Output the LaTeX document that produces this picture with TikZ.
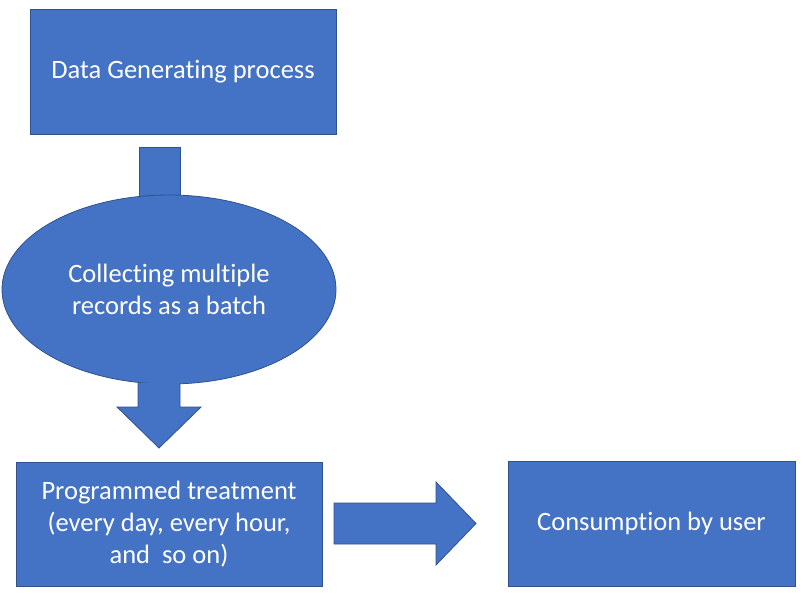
\documentclass[tikz,border=0pt]{standalone}
\usepackage{fontspec}
\setmainfont{Carlito}[Ligatures={NoCommon}]
\usetikzlibrary{shapes.geometric}
\definecolor{boxfill}{HTML}{4472C4}
\definecolor{boxline}{HTML}{2F528F}
\tikzset{
  blk/.style={fill=boxfill, draw=boxline, line width=0.8pt},
  boxnode/.style={blk, rectangle, inner sep=0pt, text=white, align=center,
    font=\fontsize{26.5}{32}\selectfont},
  ellnode/.style={blk, ellipse, inner sep=0pt, text=white, align=center,
    font=\fontsize{26.5}{32}\selectfont},
  blockarrow/.style={blk, line join=miter}
}
\begin{document}
\begin{tikzpicture}[x=1pt,y=-1pt]
\useasboundingbox (0,0) rectangle (803,594);
% boxes
\node[boxnode, minimum width=306pt, minimum height=125pt] (gen) at (183,71.5) {Data Generating process};
% arrow 1 (head hidden behind ellipse)
\draw[blockarrow] (139,147) -- (180,147) -- (180,240) -- (139,240) -- cycle;
\node[ellnode, minimum width=334pt, minimum height=189pt] (coll) at (169,289.5) {Collecting multiple\\records as a batch};
\node[boxnode, minimum width=306pt, minimum height=124pt] (prog) at (169,524) {Programmed treatment\\(every day, every hour,\\and \ so on)};
\node[boxnode, minimum width=287pt, minimum height=125pt] (cons) at (651.5,523.5) {Consumption by user};
% arrow 2
\draw[blockarrow] (138,383) -- (138,407) -- (117,407) -- (159,448) -- (201,407) -- (180,407) -- (180,383);
% arrow 3
\draw[blockarrow] (334,503) -- (436,503) -- (436,482) -- (476,523.5) -- (436,565) -- (436,544) -- (334,544) -- cycle;
\end{tikzpicture}
\end{document}
